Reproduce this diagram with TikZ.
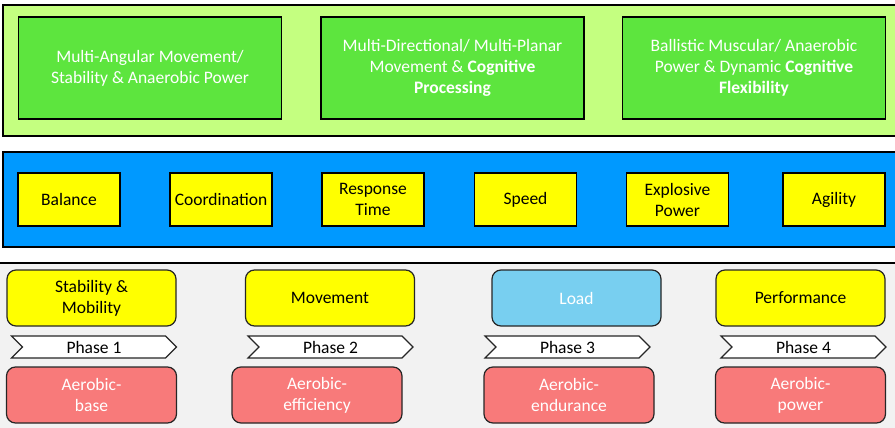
\documentclass[tikz,border=0pt]{standalone}
\usepackage{fontspec}
\setmainfont{Carlito}
\usetikzlibrary{shapes.symbols}
\definecolor{panelgreen}{HTML}{C4FF80}
\definecolor{goalgreen}{HTML}{5DE53E}
\definecolor{panelblue}{HTML}{0099FF}
\definecolor{skillyellow}{HTML}{FFFF00}
\definecolor{loadblue}{HTML}{78CFF0}
\definecolor{aerored}{HTML}{F87A7A}
\definecolor{panelgray}{HTML}{F2F2F2}
\begin{document}
\begin{tikzpicture}[
  x=1pt, y=-1pt,
  every node/.style = {font=\fontsize{17.5}{21}\selectfont, align=center, inner sep=0pt},
  panel/.style={draw=black, line width=1.4pt},
  goalbox/.style={draw=black, line width=1.4pt, fill=goalgreen, text=white, minimum width=263pt, minimum height=102pt},
  skillbox/.style={draw=black, line width=1.4pt, fill=skillyellow, minimum width=102pt, minimum height=53pt},
  stagebox/.style={draw=black!85, line width=1.2pt, rounded corners=9pt, minimum width=169pt, minimum height=56pt},
  aerobox/.style={stagebox, fill=aerored, text=white, minimum width=170pt},
  phasetag/.style={signal, signal from=west, signal to=east, draw=black!85, line width=1.2pt, fill=white, minimum width=165pt, minimum height=22pt}
  ]
\useasboundingbox (0,0) rectangle (895,428);

% panels
\filldraw[panel, fill=panelgreen] (3,5) rectangle (899,136);
\filldraw[panel, fill=panelblue] (3,152) rectangle (899,247);
\filldraw[panel, fill=panelgray] (-3,263) rectangle (899,432);

% goals
\node[goalbox] (angular) at (150,68) {Multi-Angular Movement/\\Stability \& Anaerobic Power};
\node[goalbox] (directional) at (452.5,68) {Multi-Directional/ Multi-Planar\\Movement \& \textbf{Cognitive}\\\textbf{Processing}};
\node[goalbox] (ballistic) at (754,68) {Ballistic Muscular/ Anaerobic\\Power \& Dynamic \textbf{Cognitive}\\\textbf{Flexibility}};

% skills
\node[skillbox] (balance) at (69,199.5) {Balance};
\node[skillbox] (coordination) at (221,199.5) {Coordination};
\node[skillbox] (response) at (373,199.5) {Response\\Time};
\node[skillbox] (speed) at (525.5,199.5) {Speed};
\node[skillbox] (explosive) at (677.5,199.5) {Explosive\\Power};
\node[skillbox] (agility) at (834,199.5) {Agility};

% phases
\node[stagebox, fill=skillyellow] (stability) at (91.5,298) {Stability \&\\Mobility};
\node[stagebox, fill=skillyellow] (movement) at (330,298) {Movement};
\node[stagebox, fill=loadblue, text=white] (load) at (576.5,298) {Load};
\node[stagebox, fill=skillyellow] (performance) at (800.5,298) {Performance};

\node[phasetag] (phase1) at (94,347) {Phase 1};
\node[phasetag] (phase2) at (330.5,347) {Phase 2};
\node[phasetag] (phase3) at (567.5,347) {Phase 3};
\node[phasetag] (phase4) at (803.5,347) {Phase 4};

\node[aerobox] (base) at (91.5,395) {Aerobic-\\base};
\node[aerobox] (efficiency) at (317,395) {Aerobic-\\efficiency};
\node[aerobox] (endurance) at (569,395) {Aerobic-\\endurance};
\node[aerobox] (power) at (800.5,395) {Aerobic-\\power};

\end{tikzpicture}
\end{document}
